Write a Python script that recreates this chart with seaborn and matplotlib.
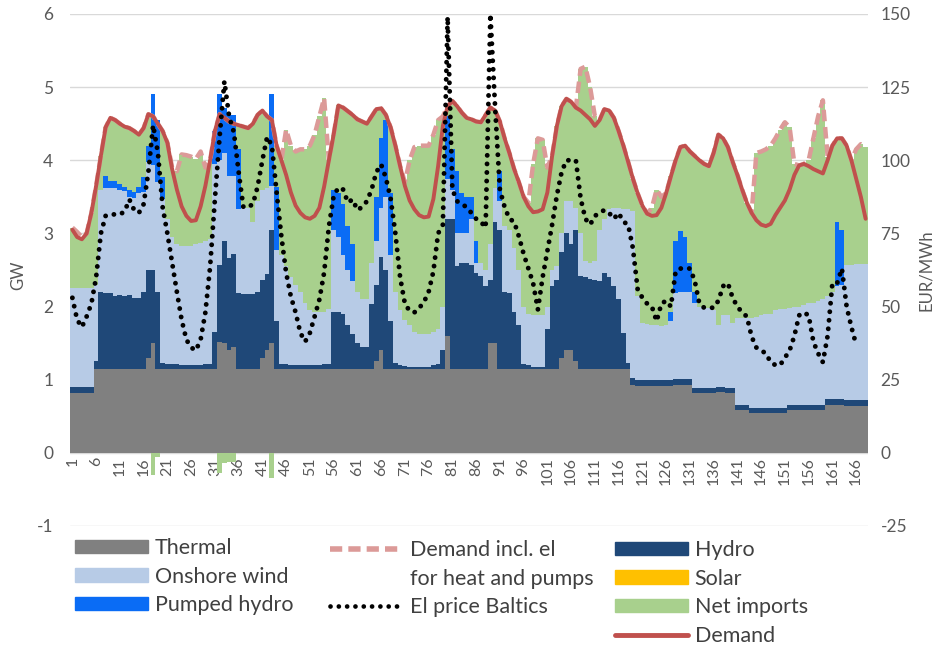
import numpy as np
import matplotlib
matplotlib.use("Agg")
import matplotlib.pyplot as plt
from matplotlib.patches import Patch
from matplotlib.lines import Line2D
import seaborn as sns

# hourly values, hour 1..168 (GW unless noted)
hours = np.arange(1, 169)

thermal = [
    .82, .82, .82, .82, .82, 1.14, 1.14, 1.14, 1.14, 1.14,
    1.14, 1.14, 1.15, 1.14, 1.14, 1.14, 1.30, 1.50, 1.14, 1.14,
    1.14, 1.14, 1.14, 1.14, 1.14, 1.14, 1.14, 1.14, 1.14, 1.14,
    1.14, 1.52, 1.50, 1.40, 1.45, 1.14, 1.14, 1.14, 1.14, 1.14,
    1.30, 1.40, 1.50, 1.14, 1.14, 1.14, 1.14, 1.14, 1.14, 1.14,
    1.14, 1.14, 1.14, 1.14, 1.14, 1.14, 1.14, 1.14, 1.14, 1.14,
    1.14, 1.14, 1.14, 1.14, 1.25, 1.40, 1.14, 1.14, 1.14, 1.14,
    1.14, 1.14, 1.14, 1.14, 1.14, 1.14, 1.14, 1.14, 1.14, 1.60,
    1.14, 1.14, 1.14, 1.14, 1.14, 1.14, 1.14, 1.14, 1.50, 1.50,
    1.14, 1.14, 1.14, 1.14, 1.14, 1.14, 1.14, 1.14, 1.14, 1.14,
    1.14, 1.14, 1.14, 1.30, 1.40, 1.40, 1.25, 1.14, 1.14, 1.14,
    1.14, 1.14, 1.14, 1.14, 1.14, 1.14, 1.14, 1.14, .93, .92,
    .92, .92, .92, .92, .92, .92, .92, .93, .93, .93,
    .93, .82, .82, .82, .82, .82, .83, .83, .82, .82,
    .59, .59, .59, .55, .55, .55, .55, .55, .55, .55,
    .55, .59, .59, .59, .59, .59, .59, .59, .59, .66,
    .66, .66, .65, .64, .64, .64, .64, .64]

hydro = [
    .08, .08, .08, .08, .08, .11, 1.06, 1.04, 1.04, 1.01,
    1.02, 1.00, 1.01, .98, .98, 1.06, 1.20, 1.00, 1.06, .09,
    .08, .07, .07, .06, .06, .06, .06, .06, .07, .08,
    .51, 1.05, 1.40, 1.27, 1.27, 1.05, 1.03, 1.03, 1.03, 1.06,
    1.07, 1.04, 1.55, .66, .08, .07, .06, .06, .06, .06,
    .06, .06, .06, .07, .08, .79, .79, .76, .61, .48,
    .36, .31, .31, .89, 1.05, 1.28, 1.36, .66, .09, .06,
    .05, .04, .04, .04, .04, .04, .06, .08, .26, 1.60,
    2.06, 1.41, 1.46, 1.46, 1.43, 1.32, 1.28, 1.14, .87, 1.65,
    1.91, 1.06, 1.04, .79, .61, .08, .06, .04, .03, .03,
    .56, 1.14, 1.23, 1.45, 1.60, 1.45, 1.80, 1.28, 1.26, 1.24,
    1.23, 1.21, 1.32, 1.26, 1.14, .96, .50, .09, .09, .08,
    .07, .07, .07, .07, .07, .07, .08, .08, .08, .08,
    .08, .07, .07, .07, .07, .07, .07, .07, .07, .07,
    .07, .07, .07, .07, .07, .07, .07, .07, .07, .07,
    .07, .07, .07, .07, .07, .07, .07, .07, .07, .08,
    .08, .08, .08, .08, .08, .08, .08, .08]

onshore_wind = [
    1.35, 1.35, 1.35, 1.35, 1.35, 1.05, 1.40, 1.44, 1.44, 1.47,
    1.44, 1.44, 1.34, 1.36, 1.43, 1.37, 1.47, 1.43, 1.50, 2.24,
    1.98, 1.74, 1.64, 1.63, 1.63, 1.63, 1.65, 1.67, 1.69, 1.70,
    2.30, 1.43, 1.20, 1.11, 1.06, 1.14, 1.18, 1.18, .98, 1.25,
    1.23, 1.18, .60, .98, 1.48, 1.34, 1.20, 1.10, 1.00, .85,
    .75, .72, .72, .71, .75, 1.12, 1.02, .80, .75, .73,
    .70, .65, .65, .57, .60, .67, 1.00, .90, .97, .75,
    .63, .57, .47, .44, .44, .44, .45, .48, .60, .55,
    .40, .45, .40, .40, .63, .14, .18, .22, .48, .47,
    .40, .90, .87, .87, .75, .78, .70, .70, .71, .71,
    .30, .22, .18, .25, .45, .60, .30, .58, .22, .22,
    .25, .70, .74, .93, 1.07, 1.25, 1.69, 2.10, 2.28, 1.15,
    .79, .77, .76, .76, .75, .76, .80, 1.18, 1.19, 1.19,
    1.19, 1.16, 1.11, 1.11, 1.09, 1.06, .85, .98, .99, .89,
    1.19, 1.19, 1.19, 1.23, 1.24, 1.26, 1.28, 1.28, 1.33, 1.35,
    1.35, 1.32, 1.34, 1.34, 1.36, 1.39, 1.39, 1.42, 1.44, 1.41,
    1.46, 1.54, 1.57, 1.85, 1.85, 1.86, 1.86, 1.86]

pumped_hydro = [
    0, 0, 0, 0, 0, 0, 0, .16, .09, .09,
    .07, .06, .10, .08, .09, .20, .23, .97, .85, .30,
    0, 0, 0, 0, 0, 0, 0, 0, 0, 0,
    .45, .90, .62, .87, .84, .82, 0, 0, 0, 0,
    0, 0, 1.25, .86, 0, 0, 0, 0, 0, 0,
    0, 0, 0, 0, 0, .55, .60, .70, .60, .50,
    0, 0, 0, 0, .60, .95, 1.05, .85, 0, 0,
    0, 0, 0, 0, 0, 0, 0, 0, 0, .85,
    .55, .85, .55, .50, .30, .30, 0, 0, 0, 0,
    .40, 0, 0, 0, 0, 0, 0, 0, 0, 0,
    0, 0, 0, 0, 0, 0, 0, 0, 0, 0,
    0, 0, 0, 0, 0, 0, 0, 0, 0, 0,
    0, 0, 0, 0, 0, 0, .12, .70, .83, .75,
    .40, .15, 0, 0, 0, 0, 0, 0, 0, 0,
    0, 0, 0, 0, 0, 0, 0, 0, 0, 0,
    0, 0, 0, 0, 0, 0, 0, 0, 0, 0,
    0, .87, .75, 0, 0, 0, 0, 0]

solar = [0.0] * 168

net_imports = [
    .83, .77, .70, .75, 1.03, 1.35, .46, .67, .87, .84,
    .83, .82, .84, .84, .71, .67, .43, -.30, -.05, .63,
    1.04, .95, 1.00, 1.25, 1.24, 1.22, 1.17, 1.25, 1.00, 1.08,
    0, -.27, -.14, -.12, -.12, .33, 1.11, 1.09, 1.35, 1.17,
    1.08, .98, -.35, .56, 1.30, 1.87, 1.80, 1.82, 1.95, 2.10,
    2.25, 2.43, 2.68, 2.93, 2.03, .75, 1.20, 1.32, 1.57, 1.77,
    2.36, 2.43, 2.40, 2.00, 1.20, .41, .07, .90, 2.00, 1.97,
    1.88, 2.25, 2.53, 2.58, 2.58, 2.58, 2.70, 2.85, 2.60, .14,
    .66, .89, 1.10, 1.08, 1.06, 1.63, 1.92, 2.12, 1.87, 1.06,
    .68, 1.20, 1.05, 1.08, 1.20, 1.50, 1.52, 2.07, 2.42, 2.40,
    1.90, 1.56, 1.92, 1.74, 1.39, 1.35, 1.37, 2.25, 2.66, 2.40,
    1.98, 1.50, 1.50, 1.35, 1.23, 1.05, .87, .65, .45, 1.40,
    1.60, 1.51, 1.60, 1.85, 1.76, 1.80, 1.86, 1.11, 1.15, 1.25,
    1.52, 1.86, 2.00, 1.95, 1.94, 2.15, 2.60, 2.42, 2.30, 2.20,
    1.95, 1.75, 1.57, 1.43, 2.24, 2.24, 2.25, 2.30, 2.35, 2.45,
    2.55, 2.47, 1.95, 1.93, 1.93, 1.95, 2.25, 2.52, 2.72, 1.90,
    2.00, 1.15, 1.25, 1.63, 1.43, 1.57, 1.64, 1.60]

demand = [
    3.05, 2.95, 2.92, 3.00, 3.28, 3.65, 4.06, 4.45, 4.58, 4.55,
    4.50, 4.46, 4.44, 4.40, 4.35, 4.44, 4.63, 4.60, 4.50, 4.40,
    4.24, 3.88, 3.60, 3.37, 3.24, 3.17, 3.18, 3.37, 3.65, 4.00,
    4.40, 4.63, 4.58, 4.53, 4.50, 4.48, 4.46, 4.44, 4.50, 4.62,
    4.68, 4.60, 4.55, 4.20, 4.00, 3.80, 3.56, 3.38, 3.28, 3.22,
    3.20, 3.24, 3.35, 3.64, 4.00, 4.35, 4.75, 4.72, 4.67, 4.62,
    4.56, 4.53, 4.50, 4.60, 4.70, 4.71, 4.62, 4.45, 4.20, 3.92,
    3.65, 3.45, 3.33, 3.25, 3.22, 3.23, 3.47, 3.92, 4.47, 4.74,
    4.81, 4.74, 4.65, 4.58, 4.56, 4.53, 4.52, 4.62, 4.72, 4.68,
    4.53, 4.30, 4.10, 3.88, 3.70, 3.50, 3.37, 3.29, 3.30, 3.33,
    3.56, 4.06, 4.47, 4.74, 4.84, 4.80, 4.72, 4.68, 4.62, 4.56,
    4.47, 4.55, 4.70, 4.68, 4.58, 4.40, 4.20, 3.98, 3.75, 3.55,
    3.38, 3.27, 3.24, 3.25, 3.35, 3.55, 3.78, 4.00, 4.18, 4.20,
    4.12, 4.06, 4.00, 3.95, 3.92, 4.10, 4.35, 4.30, 4.18, 3.98,
    3.80, 3.60, 3.42, 3.28, 3.18, 3.12, 3.10, 3.13, 3.25, 3.35,
    3.45, 3.60, 3.80, 3.93, 3.95, 3.92, 3.88, 3.85, 3.82, 4.00,
    4.20, 4.30, 4.30, 4.20, 4.00, 3.75, 3.50, 3.20]

demand_incl = [
    3.08, 3.02, 2.95, 3.00, 3.28, 3.65, 4.06, 4.45, 4.58, 4.55,
    4.50, 4.46, 4.44, 4.40, 4.35, 4.44, 4.63, 4.60, 4.50, 4.40,
    4.24, 3.90, 3.85, 4.08, 4.07, 4.05, 4.02, 4.12, 3.90, 4.00,
    4.40, 4.63, 4.58, 4.53, 4.50, 4.48, 4.46, 4.44, 4.50, 4.62,
    4.68, 4.60, 4.55, 4.20, 4.00, 4.42, 4.20, 4.12, 4.15, 4.15,
    4.20, 4.35, 4.60, 4.85, 4.00, 4.35, 4.75, 4.72, 4.67, 4.62,
    4.56, 4.53, 4.50, 4.60, 4.70, 4.71, 4.62, 4.45, 4.20, 3.92,
    3.70, 4.00, 4.18, 4.20, 4.20, 4.20, 4.35, 4.55, 4.60, 4.74,
    4.81, 4.74, 4.65, 4.58, 4.56, 4.53, 4.52, 4.62, 4.72, 4.68,
    4.53, 4.30, 4.10, 3.88, 3.70, 3.50, 3.42, 3.95, 4.30, 4.28,
    3.90, 4.06, 4.47, 4.74, 4.84, 4.80, 4.72, 5.25, 5.28, 5.00,
    4.60, 4.55, 4.70, 4.68, 4.58, 4.40, 4.20, 3.98, 3.75, 3.55,
    3.38, 3.27, 3.35, 3.60, 3.50, 3.55, 3.78, 4.00, 4.18, 4.20,
    4.12, 4.06, 4.00, 3.95, 3.92, 4.10, 4.35, 4.30, 4.18, 3.98,
    3.80, 3.60, 3.42, 3.28, 4.10, 4.12, 4.15, 4.20, 4.30, 4.42,
    4.52, 4.45, 3.95, 3.93, 3.95, 4.00, 4.30, 4.60, 4.82, 4.05,
    4.20, 4.30, 4.30, 4.20, 4.00, 4.15, 4.22, 4.18]

# EUR/MWh
price = [
    53, 45.5, 43, 46.6, 51, 60, 75, 81, 81.5, 81.5,
    81.5, 82.5, 86.6, 83, 82, 85, 96, 112, 102.6, 84,
    75, 65, 55, 45.5, 38.7, 36, 35, 38.7, 48, 63.7,
    86.6, 108, 127, 115, 109.6, 96, 84, 84, 85, 91,
    100, 108, 105, 89, 74, 61.6, 53.4, 48, 41, 38,
    41, 46.6, 52.4, 61.6, 77.4, 87.7, 90.7, 90, 85.6, 86.6,
    83, 84, 86, 90, 96, 98.6, 94, 87, 75, 60,
    51, 48.5, 48, 49.5, 51.5, 55, 62, 75, 78, 149,
    90, 86, 85, 84, 82, 80, 79, 77, 150, 118,
    90, 84, 80, 79, 74, 68, 63, 58, 49, 60,
    69, 78, 88, 96, 100, 100, 100, 87, 80, 78,
    81, 82, 83, 82, 80, 82, 79, 78, 70, 56,
    53, 51, 50, 45, 51, 52, 50, 62, 63, 63,
    63, 59, 51, 49.6, 49.6, 49.6, 52, 57, 58, 53,
    50, 48, 46.6, 39.7, 36, 35, 34, 31, 30, 30,
    32.5, 35, 40, 47, 48, 47, 38, 34, 31, 40,
    58, 58, 63, 50, 43, 37, np.nan, np.nan]

x_ticks = list(range(1, 169, 5))

colors = {
    "Thermal": "#808080",
    "Hydro": "#1f4878",
    "Onshore wind": "#b7cbe6",
    "Pumped hydro": "#0a6cf5",
    "Solar": "#ffc000",
    "Net imports": "#a8d08d",
}
red = "#c0504d"
pink = "#dc9a98"
txt = "#595959"

sns.set_theme(style="white")
plt.rcParams["font.family"] = ["Lato", "DejaVu Sans"]
plt.rcParams["axes.unicode_minus"] = False

fig = plt.figure(figsize=(9.37, 6.47), dpi=100)
ax = fig.add_axes([70 / 937, 1 - 526 / 647, 798 / 937, 512 / 647])

for v in range(-1, 7):
    ax.axhline(v, color="#d9d9d9", lw=1, zorder=0)

stack = [("Thermal", thermal), ("Hydro", hydro), ("Onshore wind", onshore_wind),
         ("Pumped hydro", pumped_hydro), ("Solar", solar)]
bottom = np.zeros(len(hours))
for name, vals in stack:
    vals = np.array(vals, dtype=float)
    ax.bar(hours, vals, bottom=bottom, width=1.0, color=colors[name],
           linewidth=0, antialiased=False, zorder=1)
    bottom += vals
net = np.array(net_imports, dtype=float)
ax.bar(hours, net, bottom=np.where(net >= 0, bottom, 0), width=1.0,
       color=colors["Net imports"], linewidth=0, antialiased=False, zorder=1)

sns.lineplot(x=hours, y=demand_incl, ax=ax, color=pink, linewidth=3.2,
             linestyle=(0, (2.6, 1.3)), zorder=3)
sns.lineplot(x=hours, y=demand, ax=ax, color=red, linewidth=2.8, zorder=4)

ax.set_xlim(0.5, 168.5)
ax.set_ylim(-1, 6)
ax.spines["bottom"].set_position(("data", 0))
for s in ax.spines.values():
    s.set_visible(False)
ax.set_yticks(range(-1, 7))
ax.set_xticks(x_ticks)
ax.set_xticklabels([str(t) for t in x_ticks])
ax.tick_params(axis="y", length=0, pad=12, labelsize=12.5, labelcolor=txt)
ax.tick_params(axis="x", length=0, pad=3, labelsize=11.5, labelcolor=txt,
               labelrotation=90)
ax.set_xlabel("")
ax.set_ylabel("")

ax2 = ax.twinx()
sns.lineplot(x=hours, y=price, ax=ax2, color="black", linewidth=3.5,
             linestyle=(0, (0.01, 1.75)), dash_capstyle="round", zorder=5)
ax2.set_ylim(-25, 150)
ax2.set_yticks(range(-25, 151, 25))
for s in ax2.spines.values():
    s.set_visible(False)
ax2.tick_params(axis="y", length=0, pad=9, labelsize=12.5, labelcolor=txt)
ax2.set_ylabel("")
ax2.grid(False)

fig.text(18 / 937, 1 - 275 / 647, "GW", rotation=90, ha="center", va="center",
         fontsize=12, color=txt)
fig.text(926 / 937, 1 - 270 / 647, "EUR/MWh", rotation=90, ha="center",
         va="center", fontsize=12, color=txt)

leg_kw = dict(frameon=False, fontsize=15.5, handlelength=3.4, handleheight=0.6,
              handletextpad=0.3, labelspacing=0.4, borderpad=0, borderaxespad=0,
              labelcolor="#404040")

h1 = [Patch(color=colors[n], label=n) for n in ["Thermal", "Onshore wind", "Pumped hydro"]]
h2 = [Line2D([], [], color=pink, lw=4, linestyle=(0, (2.2, 1.1)), label="Demand incl. el"),
      Line2D([], [], color="none", label="for heat and pumps"),
      Line2D([], [], color="black", lw=3.4, linestyle=(0, (0.01, 1.75)),
             dash_capstyle="round", label="El price Baltics")]
h3 = [Patch(color=colors[n], label=n) for n in ["Hydro", "Solar", "Net imports"]]
h3.append(Line2D([], [], color=red, lw=3.5, label="Demand"))

fig.legend(handles=h1, loc="upper left", bbox_to_anchor=(75 / 937, 1 - 538 / 647), **leg_kw)
fig.legend(handles=h2, loc="upper left", bbox_to_anchor=(330 / 937, 1 - 540 / 647), **leg_kw)
fig.legend(handles=h3, loc="upper left", bbox_to_anchor=(615 / 937, 1 - 540 / 647), **leg_kw)

fig.savefig("out.png", dpi=100)
